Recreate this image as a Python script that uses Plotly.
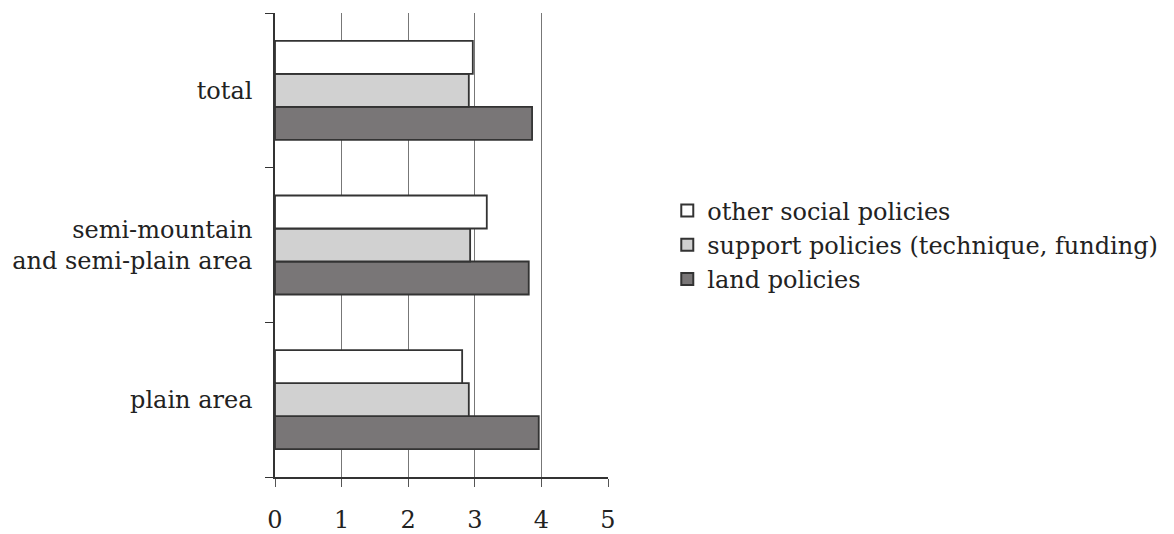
import plotly.graph_objects as go

categories = ["plain area", "semi-mountain<br>and semi-plain area", "total"]
series_names = ["other social policies", "support policies (technique, funding)", "land policies"]
other_social = [2.81, 3.18, 2.97]
support = [2.91, 2.93, 2.91]
land = [3.96, 3.81, 3.86]
x_ticks = [0, 1, 2, 3, 4, 5]

colors = ["#ffffff", "#d1d1d1", "#797677"]
values = [other_social, support, land]

FONT = "DejaVu Serif"
FS = 24
fig = go.Figure()
# add in reverse so "other" is on top in each group
for name, vals, col in reversed(list(zip(series_names, values, colors))):
    fig.add_trace(go.Bar(
        y=categories, x=vals, name=name, orientation="h",
        marker=dict(color=col, line=dict(color="#333333", width=1.8)),
    ))

# page body has an 8px margin, so the figure is 8px smaller and shifted
fig.update_layout(
    width=1166, height=526,
    barmode="group", bargap=0.36, bargroupgap=0,
    plot_bgcolor="white", paper_bgcolor="white",
    margin=dict(l=267, r=566, t=5, b=57),
    font=dict(family=FONT, size=FS, color="#222222"),
    showlegend=True,
    legend=dict(traceorder="reversed", x=1.178, y=0.5, xanchor="left", yanchor="middle",
                font=dict(family=FONT, size=FS, color="#222222"),
                bgcolor="rgba(0,0,0,0)", tracegroupgap=0, itemsizing="constant"),
)
fig.update_xaxes(
    range=[0, 5], tickvals=x_ticks, ticktext=[str(v) for v in x_ticks],
    showgrid=True, gridcolor="#777777", gridwidth=1,
    showline=True, linecolor="#333333", linewidth=1.5,
    ticks="outside", ticklen=8, tickcolor="#555555", tickwidth=1.2,
    ticklabelstandoff=12, zeroline=False, automargin=False,
    tickfont=dict(family=FONT, size=FS, color="#222222"),
)
fig.update_yaxes(
    type="category", categoryorder="array", categoryarray=categories,
    showline=True, linecolor="#333333", linewidth=1.5,
    ticks="outside", tickson="boundaries", ticklen=8, tickcolor="#333333", tickwidth=1.2,
    ticklabelstandoff=16, showgrid=False, automargin=False,
    tickfont=dict(family=FONT, size=FS, color="#222222"),
)
fig.write_html("out.html")
